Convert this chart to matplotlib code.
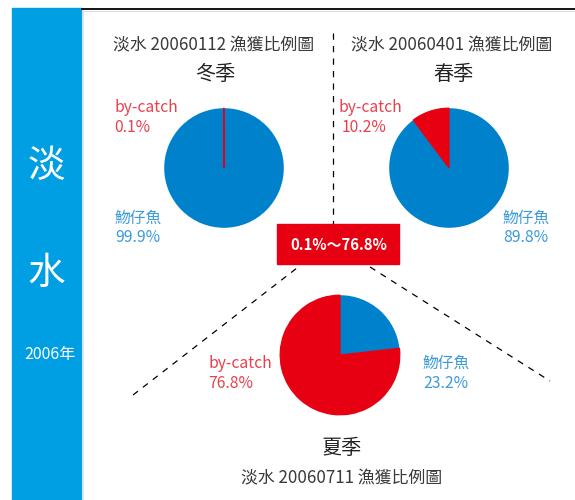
import matplotlib
matplotlib.use("Agg")
import matplotlib.pyplot as plt
from matplotlib.patches import Rectangle

plt.rcParams['font.family'] = ['Noto Sans CJK TC', 'DejaVu Sans']

# ---- data ----
categories = ["by-catch", "魩仔魚"]
winter_vals = [0.1, 99.9]
spring_vals = [10.2, 89.8]
summer_vals = [76.8, 23.2]
titles = ["淡水 20060112 漁獲比例圖", "淡水 20060401 漁獲比例圖", "淡水 20060711 漁獲比例圖"]
seasons = ["冬季", "春季", "夏季"]
range_label = "0.1%～76.8%"
side_chars = ["淡", "水"]
side_year = "2006年"

RED = "#E60012"
BLUE = "#0081CC"
LRED = "#E8404C"
LBLUE = "#3A9ADA"
SIDE = "#009FE3"
GRAY = "#3a3a3a"

W, H = 575, 500
fig = plt.figure(figsize=(W / 100, H / 100), dpi=100)
ax = fig.add_axes([0, 0, 1, 1])
ax.set_xlim(0, W)
ax.set_ylim(H, 0)
ax.axis("off")

LW = "light"

# sidebar
ax.add_patch(Rectangle((12, 8), 70, 492, color=SIDE, zorder=1))
ax.plot([82, 82], [8, 500], color="#dddddd", lw=0.8)
ax.plot([82, 575], [8.5, 8.5], color="black", lw=1.3)
ax.plot([82, 575], [10.5, 10.5], color="#dddddd", lw=0.8)
ax.text(46, 166, side_chars[0], color="white", fontsize=27, ha="center", va="center", fontweight=LW)
ax.text(46, 273, side_chars[1], color="white", fontsize=27, ha="center", va="center", fontweight=LW)
ax.text(50, 355, side_year, color="white", fontsize=11.5, ha="center", va="center", fontweight=LW)

# dashed guide lines
dash = dict(color="black", lw=0.9, ls=(0, (5, 5)))
ax.plot([333, 333], [33, 224], **dash)
ax.plot([133, 297], [395, 268], **dash)
ax.plot([370, 550], [267, 381], **dash)

# range box
ax.add_patch(Rectangle((277, 224), 122, 40, color=RED, zorder=3))
ax.text(339, 245, range_label, color="white", fontsize=10.7, fontweight="bold",
        ha="center", va="center", zorder=4)


def pie_at(cx, cy, r, vals):
    pax = fig.add_axes([(cx - r) / W, 1 - (cy + r) / H, 2 * r / W, 2 * r / H])
    wedges, _ = pax.pie(vals, colors=[RED, BLUE], startangle=90, counterclock=True,
                        radius=1, wedgeprops=dict(linewidth=0))
    wedges[0].set_edgecolor(RED)
    wedges[0].set_linewidth(0.9)
    wedges[0].set_zorder(3)
    pax.set_xlim(-1.02, 1.02)
    pax.set_ylim(-1.02, 1.02)
    pax.axis("off")


pie_at(224, 168, 61, winter_vals)
pie_at(449, 168, 61, spring_vals)
pie_at(340, 355, 61, summer_vals)

fs_t = 12.2
fs_s = 14.5
fs_l = 11.3
kw_t = dict(color=GRAY, fontsize=fs_t, ha="center", va="center", fontweight=LW)
kw_s = dict(color="#222222", fontsize=fs_s, ha="center", va="center", fontweight=LW)
kw_r = dict(color=LRED, fontsize=fs_l, ha="left", va="center", fontweight=LW)
kw_b = dict(color=LBLUE, fontsize=fs_l, ha="left", va="center", fontweight=LW)

# winter
ax.text(214, 45, titles[0], **kw_t)
ax.text(215, 74, seasons[0], **kw_s)
ax.text(114, 108, categories[0], **kw_r)
ax.text(114, 128, f"{winter_vals[0]}%", **kw_r)
ax.text(115, 218, categories[1], **kw_b)
ax.text(115, 238, f"{winter_vals[1]}%", **kw_b)

# spring
ax.text(452, 45, titles[1], **kw_t)
ax.text(453, 74, seasons[1], **kw_s)
ax.text(339, 108, categories[0], **kw_r)
ax.text(342, 128, f"{spring_vals[0]}%", **kw_r)
ax.text(503, 218, categories[1], **kw_b)
ax.text(503, 238, f"{spring_vals[1]}%", **kw_b)

# summer
ax.text(208, 363, categories[0], **kw_r)
ax.text(208, 383, f"{summer_vals[0]}%", **kw_r)
ax.text(423, 363, categories[1], **kw_b)
ax.text(423, 383, f"{summer_vals[1]}%", **kw_b)
ax.text(342, 449, seasons[2], **kw_s)
ax.text(342, 478, titles[2], **kw_t)

fig.savefig("out.png", dpi=100)
